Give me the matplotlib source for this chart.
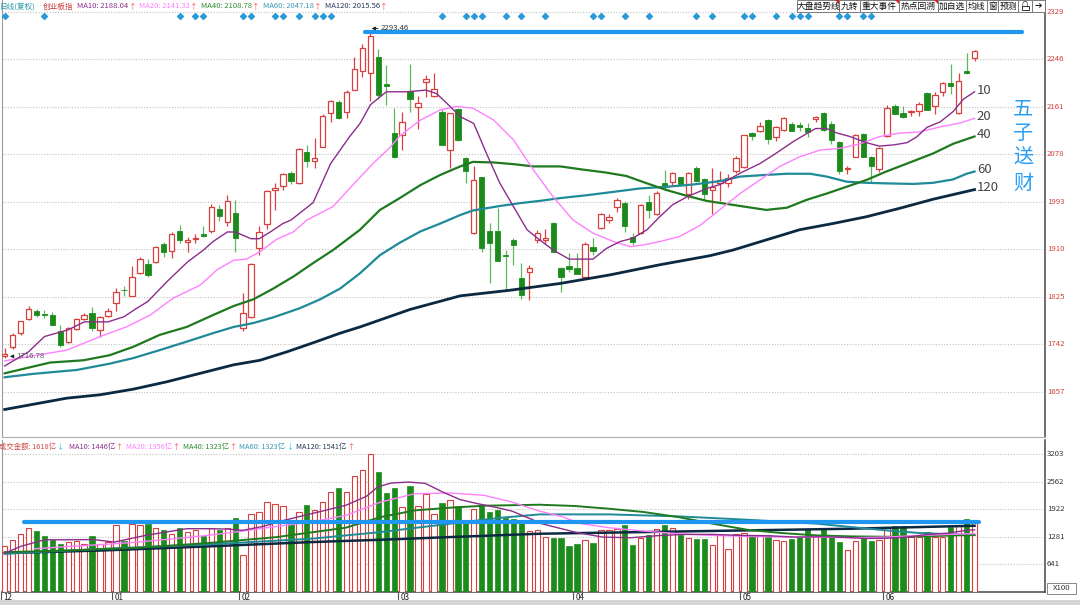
import matplotlib.pyplot as plt
from matplotlib.patches import Rectangle, Polygon

plt.rcParams['font.family'] = ['Noto Sans CJK SC', 'DejaVu Sans']

# ---- daily candles, 创业板指 (Dec 2019 - Jun 2020) ----
opens = [1721, 1737, 1762, 1786, 1800, 1795, 1793, 1765, 1745, 1769, 1786, 1796, 1767, 1792,
         1814, 1838, 1827, 1868, 1883, 1887, 1919, 1907, 1942, 1922, 1928, 1936, 1942, 1980, 1958, 1974,
         1771, 1790, 1911, 1955, 2014, 2021, 2045, 2026, 2082, 2066, 2091, 2151, 2170, 2153, 2192, 2224,
         2221, 2250, 2202, 2115,
         2112, 2190, 2161, 2206, 2181, 2153, 2085, 2157, 2070, 1939, 2037, 1942, 1942, 1900, 1925, 1858,
         1870, 1926, 1925, 1956, 1876, 1879,
         1876, 1861, 1914, 1947, 1962, 1984, 1992, 1932, 1939, 1993, 1972, 2026, 2029, 2037, 2008, 2054,
         2033, 2014, 2026, 2027, 2047,
         2055, 2115, 2118, 2138, 2108, 2120, 2131, 2129, 2124, 2139, 2150, 2131, 2100, 2052, 2073, 2113,
         2072, 2051,
         2109, 2163, 2151, 2152, 2154, 2185, 2162, 2188, 2203, 2151, 2224, 2247]
highs = [1735, 1761, 1783, 1809, 1804, 1802, 1799, 1775, 1772, 1788, 1796, 1807, 1792, 1805,
         1841, 1845, 1879, 1895, 1893, 1916, 1922, 1940, 1952, 1932, 1936, 1951, 1990, 1988, 2005, 1997,
         1832, 1885, 1950, 2015, 2026, 2045, 2048, 2088, 2093, 2106, 2148, 2174, 2173, 2191, 2250, 2273,
         2293.46, 2263, 2235, 2159,
         2153, 2238, 2181, 2218, 2221, 2158, 2151, 2160, 2073, 2056, 2038, 1956, 1982, 1908, 1929, 1886,
         1882, 1943, 1945, 1958, 1878, 1902,
         1902, 1922, 1929, 1974, 1971, 2000, 1994, 1939, 1990, 2006, 2012, 2049, 2046, 2038, 2046, 2056,
         2035, 2053, 2047, 2042, 2075,
         2112, 2117, 2134, 2139, 2127, 2143, 2135, 2135, 2133, 2145, 2153, 2136, 2101, 2057, 2113, 2115,
         2074, 2090,
         2165, 2166, 2163, 2155, 2170, 2188, 2188, 2206, 2237, 2222, 2257, 2262]
lows = [1716.78, 1733, 1757, 1784, 1790, 1787, 1775, 1737, 1744, 1766, 1785, 1765, 1755, 1790,
        1800, 1827, 1826, 1866, 1860, 1885, 1895, 1894, 1921, 1905, 1920, 1931, 1938, 1960, 1950, 1905,
        1765, 1788, 1900, 1945, 1979, 2015, 2025, 2024, 2055, 2053, 2090, 2135, 2140, 2141, 2191, 2215,
        2172, 2176, 2165, 2070,
        2085, 2153, 2123, 2178, 2178, 2093, 2053, 2101, 2027, 1937, 1905, 1849, 1889, 1840, 1882, 1821,
        1820, 1920, 1918, 1904, 1834, 1870,
        1865, 1858, 1899, 1946, 1956, 1976, 1940, 1917, 1937, 1965, 1970, 2014, 2021, 2021, 1999, 2029,
        1997, 1972, 1995, 2020, 2045,
        2053, 2102, 2116, 2096, 2101, 2119, 2118, 2119, 2108, 2134, 2118, 2096, 2042, 2043, 2072, 2072,
        2026, 2046,
        2108, 2148, 2141, 2146, 2145, 2155, 2148, 2181, 2184, 2149, 2220, 2242]
closes = [1724, 1758, 1782, 1803, 1794, 1793, 1775, 1740, 1771, 1786, 1794, 1770, 1790, 1800,
          1834, 1837, 1861, 1893, 1864, 1914, 1905, 1936, 1925, 1925, 1930, 1933, 1984, 1968, 1995, 1930,
          1797, 1883, 1940, 2012, 2017, 2042, 2031, 2086, 2066, 2070, 2146, 2172, 2141, 2188, 2228, 2265,
          2287, 2182, 2198, 2073,
          2135, 2175, 2169, 2210, 2193, 2094, 2150, 2103, 2047, 2032, 1912, 1920, 1889, 1897, 1917, 1829,
          1877, 1939, 1929, 1905, 1861, 1874,
          1866, 1919, 1907, 1972, 1966, 1997, 1951, 1923, 1988, 1979, 2009, 2020, 2044, 2025, 2044, 2031,
          2007, 2020, 2032, 2035, 2070,
          2111, 2109, 2127, 2104, 2126, 2141, 2119, 2126, 2116, 2144, 2120, 2102, 2048, 2054, 2111, 2073,
          2057, 2088,
          2159, 2149, 2144, 2153, 2167, 2156, 2182, 2204, 2198, 2207, 2221, 2261]

# 成交金额 (x100 亿 scale on the axis)
volumes = [1060, 1200, 1355, 1495, 1417, 1293, 1215, 1106, 1160, 1183, 1122, 1308, 1122, 1161,
           1549, 1183, 1588, 1549, 1588, 1495, 1433, 1355, 1495, 1394, 1433, 1293, 1495, 1433, 1495, 1720,
           866, 1821, 1868, 2084, 2054, 1991, 1681, 1860, 2015, 1898, 2092, 2325, 2418, 2325, 2690, 2830,
           3219, 2791, 2302, 2418,
           1976, 2465, 2007, 2271, 1821, 2077, 2131, 1991, 1665, 1937, 2015, 1850, 1900, 1730, 1700, 1600,
           1420, 1450,
           1277, 1262, 1262, 1060, 1106, 1199, 1137, 1448, 1433, 1472, 1549, 1083, 1254, 1316, 1472, 1549,
           1495, 1316, 1262, 1231, 1231, 1083, 1316, 1006, 1355, 1378, 1316, 1316, 1316, 1199, 1183, 1231,
           1277, 1472, 1293, 1495, 1277, 1161, 982, 1183, 1277, 1176, 1199, 1510, 1526, 1526, 1277, 1277,
           1394, 1277, 1277, 1510, 1526, 1697, 1618]

# moving averages (day index, value)
ma10_x = [0, 3, 5, 8, 10, 13, 15, 16.6, 18, 20.4, 23, 25, 26.2, 28, 29, 31, 32, 33.4, 35, 36, 38.8, 41,
          43.4, 44.7, 46, 48, 50.6, 53, 54.3, 55.6, 57.3, 59, 60.6, 62.3, 64, 65.7, 67.3, 69, 71, 74,
          75.7, 77.4, 79, 80.8, 82.4, 84, 85.8, 88.3, 90, 92.5, 95, 97, 99.2, 101, 102, 103.4, 104.7,
          106.3, 108.4, 110, 111.8, 113.5, 114.7, 116, 117.7, 119.3, 120.6, 122]
ma10_y = [1703, 1728, 1755, 1767, 1781, 1781, 1790, 1805, 1817, 1852, 1887, 1908, 1923, 1940, 1940,
          1928, 1928, 1940, 1955, 1961, 1992, 2061, 2109, 2132, 2165, 2188, 2188, 2191, 2185, 2168, 2144,
          2132, 2079, 2026, 1985, 1944, 1926, 1908, 1892, 1892, 1911, 1923, 1929, 1944, 1967, 1988, 2002,
          2017, 2024, 2044, 2061, 2079, 2100, 2115, 2123, 2123, 2115, 2109, 2098, 2092, 2094, 2098, 2108,
          2125, 2135, 2153, 2175, 2188]
ma20_x = [0, 3.6, 7.8, 12, 15.3, 18.3, 21.2, 24.6, 26.7, 28.8, 30.4, 32.1, 34.2, 36.3, 38, 41.3, 43.9,
          46.4, 48.5, 49.7, 52.3, 54.8, 56.9, 58.9, 61.5, 64, 66.5, 69, 71.5, 74, 76.6, 78.7, 80.3, 82.4,
          84.9, 87.5, 90, 92.5, 95, 97.5, 100, 102.6, 105.1, 107.6, 110.1, 112.6, 115.1, 117.7, 120.2, 122]
ma20_y = [1712, 1721, 1731, 1755, 1772, 1793, 1823, 1846, 1873, 1890, 1892, 1905, 1927, 1940, 1961, 1985,
          2025, 2062, 2090, 2110, 2138, 2156, 2162, 2159, 2138, 2103, 2050, 2002, 1961, 1938, 1923, 1914,
          1917, 1923, 1932, 1952, 1980, 2008, 2032, 2056, 2073, 2085, 2088, 2096, 2109, 2115, 2117, 2126,
          2133, 2141]
ma40_x = [0, 5.7, 9.9, 13.2, 16.2, 19.5, 22.9, 26.2, 28.8, 31.3, 33.8, 36.3, 38.8, 41.3, 44.7, 47.2,
          49.7, 52.3, 54.8, 57.3, 58.9, 61.5, 64, 66.5, 69.9, 72.4, 75.7, 78.2, 80.8, 83.3, 85.8, 88.3,
          92.5, 95.8, 98.4, 100.9, 103.4, 105.9, 108.4, 110.9, 113.5, 116.8, 119.3, 122]
ma40_y = [1690, 1709, 1713, 1722, 1737, 1758, 1772, 1793, 1809, 1821, 1840, 1861, 1885, 1908, 1944, 1979,
          2000, 2023, 2041, 2056, 2064, 2063, 2060, 2056, 2056, 2051, 2045, 2039, 2026, 2014, 2004, 1995,
          1986, 1979, 1983, 1997, 2008, 2020, 2032, 2047, 2061, 2079, 2096, 2109]
ma60_x = [0, 3.6, 9.1, 13.2, 16.2, 19.5, 22.9, 26.2, 28.8, 31.3, 33.8, 37.1, 39.7, 42.2, 44.7, 47.2,
          49.7, 52.3, 54.8, 57.3, 58.9, 62.3, 64.8, 67.3, 69.9, 73.2, 76.6, 79.9, 83.3, 86.6, 90, 92.5,
          95.8, 98.4, 101.3, 103.4, 105.9, 108.4, 110.9, 114.3, 116.8, 119.3, 121, 122]
ma60_y = [1683, 1689, 1696, 1707, 1717, 1731, 1746, 1761, 1772, 1779, 1789, 1805, 1821, 1840, 1867, 1899,
          1921, 1941, 1955, 1970, 1978, 1986, 1991, 1995, 2000, 2005, 2011, 2017, 2020, 2024, 2030, 2038,
          2041, 2043, 2043, 2038, 2029, 2027, 2026, 2025, 2027, 2033, 2043, 2047]
ma120_x = [0, 7.8, 12, 16.2, 20.4, 24.6, 28.8, 32.1, 35.5, 38.8, 42.2, 44.7, 51, 57.3, 63.6, 69.9, 76.1,
           82.4, 88.7, 91.6, 95.8, 100, 104.2, 108.4, 112.6, 116.8, 122]
ma120_y = [1626, 1646, 1652, 1662, 1675, 1690, 1705, 1713, 1728, 1744, 1761, 1772, 1803, 1827, 1837, 1849,
           1864, 1882, 1898, 1908, 1926, 1944, 1955, 1967, 1982, 1998, 2015]

vma10_x = [0, 2, 5, 8.1, 11.2, 13.8, 17.7, 20.3, 22.9, 25.5, 28.1, 29.9, 32.5, 35.1, 37.7, 40.3, 42.9,
           45.5, 46.9, 48.6, 50.8, 52.9, 55.1, 57.3, 59.5, 61.6, 63.8, 66.4, 67.3, 71.7, 75.2, 78.7, 82.6,
           85.6, 89.1, 92.6, 96.1, 99.5, 103, 105.6, 108.3, 110.9, 113.5, 116.1, 118.7, 120.9, 122]
vma10_y = [904, 1060, 1215, 1215, 1219, 1161, 1316, 1394, 1472, 1472, 1464, 1433, 1525, 1665, 1782, 1898,
           2015, 2224, 2441, 2534, 2557, 2526, 2325, 2147, 2054, 1976, 1882, 1681, 1600, 1394, 1277, 1262,
           1316, 1339, 1339, 1316, 1308, 1277, 1285, 1270, 1246, 1250, 1277, 1339, 1370, 1433, 1446]
vma20_x = [3.8, 8.1, 12.5, 16.8, 21.2, 25.5, 29.9, 34.2, 38.6, 42.9, 47.3, 51.6, 56, 60.3, 63.8, 67.3,
           70, 72.6, 76, 80.4, 84.7, 89.1, 93.4, 97.8, 102.2, 106.5, 110.9, 115.2, 119.6, 122]
vma20_y = [1006, 1060, 1106, 1161, 1239, 1316, 1417, 1525, 1627, 1782, 2092, 2286, 2302, 2248, 2092, 1880,
           1759, 1588, 1495, 1417, 1355, 1316, 1293, 1277, 1277, 1262, 1277, 1316, 1345, 1356]
vma40_x = [0, 8.1, 16.8, 25.5, 34.2, 42.9, 47.3, 51.6, 56, 60.3, 67.3, 71.7, 76, 80.4, 84.7, 89.1, 93.4,
           97.8, 102.2, 106.5, 110.9, 115.2, 119.6, 122]
vma40_y = [927, 967, 1029, 1137, 1277, 1495, 1743, 1898, 1960, 2007, 2030, 2000, 1937, 1860, 1743, 1588,
           1448, 1370, 1316, 1293, 1285, 1293, 1316, 1323]
vma60_x = [0, 12.5, 25.5, 38.6, 47.3, 56, 62.5, 67.3, 76, 84.7, 93.4, 102.2, 106.5, 110.9, 115.2, 122]
vma60_y = [889, 1006, 1106, 1239, 1394, 1588, 1728, 1805, 1805, 1759, 1681, 1588, 1511, 1433, 1370, 1323]
vma120_x = [0, 12.5, 25.5, 38.6, 47.3, 56, 67.3, 80.4, 93.4, 106.5, 115.2, 122]
vma120_y = [904, 967, 1060, 1161, 1215, 1277, 1355, 1394, 1433, 1472, 1511, 1541]

price_ticks = [2329, 2246, 2161, 2078, 1993, 1910, 1825, 1742, 1657]
vol_ticks = [3203, 2562, 1922, 1281, 641]
month_labels = ['12', '01', '02', '03', '04', '05', '06']
month_start = [0, 14, 30, 50, 72, 93, 111]
signal_days = [0, 5, 22, 24, 25, 30, 31, 34, 35, 37, 39, 40, 41, 55, 58, 59, 60, 63, 65, 68, 74, 75,
               78, 81, 87, 89, 93, 94, 97, 99, 100, 101, 105, 106, 108, 109]
high_price = 2293.46
low_price = 1716.78
last_volume = 1618

RED = '#d8403f'
GREEN = '#1b8c1b'
GREEN_WICK = '#5cb85c'
C10, C20, C40, C60, C120 = '#8b2d8b', '#ff80ff', '#1f7a1f', '#1f8a98', '#0b2a42'
BLUE = '#1f96f0'
UP_ARROW, DN_ARROW = '#ff5050', '#30c0e8'

W, H = 1080, 605
fig = plt.figure(figsize=(W / 100, H / 100), dpi=100)
fig.patch.set_facecolor('white')


def fx(px):
    return px / W


def fy(py):
    return 1 - py / H


ax = fig.add_axes([fx(2), fy(437), 1043 / W, 437 / H])
axv = fig.add_axes([fx(2), fy(592), 1043 / W, 152 / H])
xlo, xhi = -0.34, 130.86
for a in (ax, axv):
    a.set_xlim(xlo, xhi)
    a.set_xticks([])
    a.set_yticks([])
    a.spines['top'].set_visible(False)
    a.spines['left'].set_color('#9a9a9a')
    a.spines['right'].set_color('#555555')
    a.spines['right'].set_linewidth(1.2)
ax.set_ylim(1577.3, 2350.4)
ax.spines['bottom'].set_color('#b0b0b0')
axv.set_ylim(0, 3535)
axv.spines['bottom'].set_color('#555555')
axv.spines['bottom'].set_linewidth(1.2)

# grid + right labels
for p in price_ticks:
    ax.axhline(p, color='#c4c4c4', lw=0.8, ls=(0, (1, 1.5)), zorder=1)
    ax.text(1.002, p, str(p), transform=ax.get_yaxis_transform(), fontsize=5.6,
            color='#d04040', va='center', ha='left', clip_on=False)
for v in vol_ticks:
    axv.axhline(v, color='#c4c4c4', lw=0.8, ls=(0, (1, 1.5)), zorder=1)
    axv.text(1.002, v, str(v), transform=axv.get_yaxis_transform(), fontsize=5.6,
             color='#333333', va='center', ha='left', clip_on=False)

# candles + volume bars
n = len(closes)
for i in range(n):
    o, h, l, c = opens[i], highs[i], lows[i], closes[i]
    up = c >= o
    top, bot = max(o, c), min(o, c)
    body = max(top - bot, 1.2)
    wc = RED if up else GREEN_WICK
    ax.vlines(i, top, h, color=wc, lw=0.9, zorder=3)
    ax.vlines(i, l, bot, color=wc, lw=0.9, zorder=3)
    if up:
        ax.bar(i, body, bottom=bot, width=0.68, facecolor='white', edgecolor=RED, lw=0.9, zorder=4)
        axv.bar(i, volumes[i], width=0.68, facecolor='white', edgecolor=RED, lw=0.8, zorder=3)
    else:
        ax.bar(i, body, bottom=bot, width=0.68, facecolor=GREEN, edgecolor=GREEN, lw=0.6, zorder=4)
        axv.bar(i, volumes[i], width=0.68, facecolor=GREEN, edgecolor=GREEN, lw=0.5, zorder=3)

# moving averages
ax.plot(ma120_x, ma120_y, color=C120, lw=2.0, zorder=5)
ax.plot(ma60_x, ma60_y, color=C60, lw=1.6, zorder=5)
ax.plot(ma40_x, ma40_y, color=C40, lw=1.6, zorder=5)
ax.plot(ma20_x, ma20_y, color=C20, lw=1.0, zorder=5)
ax.plot(ma10_x, ma10_y, color=C10, lw=1.0, zorder=5)

axv.plot(vma120_x, vma120_y, color=C120, lw=1.8, zorder=5)
axv.plot(vma60_x, vma60_y, color=C60, lw=1.4, zorder=5)
axv.plot(vma40_x, vma40_y, color=C40, lw=1.4, zorder=5)
axv.plot(vma20_x, vma20_y, color=C20, lw=1.0, zorder=5)
axv.plot(vma10_x, vma10_y, color=C10, lw=1.0, zorder=5)

# horizontal blue levels
ax.plot([45.3, 128], [high_price, high_price], color=BLUE, lw=3, solid_capstyle='round', zorder=6)
axv.plot([2.4, 122.6], [last_volume, last_volume], color=BLUE, lw=3, solid_capstyle='round', zorder=6)

ax.annotate('', xy=(45.8, 2300), xytext=(47.3, 2300),
            arrowprops=dict(arrowstyle='-|>', color='#222222', lw=0.7, mutation_scale=5), zorder=7)
ax.text(47.3, 2300, '%.2f' % high_price, fontsize=5.6, color='#333333', va='center', ha='left', zorder=7)
ax.annotate('', xy=(0.3, 1720), xytext=(1.4, 1720),
            arrowprops=dict(arrowstyle='-|>', color='#222222', lw=0.7, mutation_scale=5), zorder=7)
ax.text(1.4, 1720, '%.2f' % low_price, fontsize=5.6, color='#555555', va='center', ha='left', zorder=7)

# signal diamonds
ax.scatter(signal_days, [2322] * len(signal_days), marker='D', s=9, color='#2a9ad8', zorder=6,
           clip_on=False)

# MA end labels
for val, lab in zip([ma10_y[-1], ma20_y[-1], ma40_y[-1], ma60_y[-1], ma120_y[-1]],
                    ['10', '20', '40', '60', '120']):
    ax.text(122.3, val + 3, lab, fontsize=9.5, color='#444444', va='center', ha='left', zorder=7)
ax.text(128.1, 2092, '五\n子\n送\n财', fontsize=14.5, color='#2a9df4', ha='center', va='center',
        linespacing=1.25, zorder=7)

# month ticks
for ms, lab in zip(month_start, month_labels):
    t = ms - 0.5
    axv.plot([t, t], [0, -170], color='#555555', lw=0.8, clip_on=False)
    axv.text(t + 0.35, -118, lab, fontsize=5.8, color='#222222', va='center', ha='left')

renderer = fig.canvas.get_renderer()


def legend_row(row, py, size):
    # each item: text, left pixel, colour, arrow char, arrow colour; items never overlap
    end = -100
    for txt, px, col, arr, acol in row:
        left = max(px, end + 3)
        t = fig.text(fx(left), fy(py), txt, fontsize=size, color=col, va='center', ha='left')
        bb = t.get_window_extent(renderer=renderer)
        end = bb.x1
        if arr:
            a = fig.text((bb.x1 + 0.3) / W, fy(py), arr, fontsize=size, color=acol, va='center', ha='left')
            end = a.get_window_extent(renderer=renderer).x1


legend_row([('日线(复权)', 0, '#2a9aa8', '', UP_ARROW),
            ('创业板指', 43, '#c83c3c', '', UP_ARROW),
            ('MA10: 2188.04', 77, C10, '↑', UP_ARROW),
            ('MA20: 2141.32', 138, C20, '↑', UP_ARROW),
            ('MA40: 2108.78', 198, '#2e8b2e', '↑', UP_ARROW),
            ('MA60: 2047.18', 258, '#3a9ab0', '↑', UP_ARROW),
            ('MA120: 2015.56', 318, '#2a3a5a', '↑', UP_ARROW)], 6.5, 5.5)
legend_row([('成交金额: 1618亿', -1, '#d04848', '↓', DN_ARROW),
            ('MA10: 1446亿', 69, C10, '↑', UP_ARROW),
            ('MA20: 1356亿', 126, C20, '↑', UP_ARROW),
            ('MA40: 1323亿', 178, '#2e8b2e', '↑', UP_ARROW),
            ('MA60: 1323亿', 232, '#3a9ab0', '↓', DN_ARROW),
            ('MA120: 1541亿', 287, '#2a3a5a', '↑', UP_ARROW)], 446.5, 5.3)

# toolbar buttons top right
buttons = [(797, 839, '大盘趋势线'), (839, 860, '九转'), (860, 899, '重大事件'), (899, 938, '热点回溯'),
           (938, 966, '加自选'), (966, 987, '均线'), (987, 998, '窗'), (998, 1018, '预测'),
           (1018, 1032, ''), (1032, 1045, '')]
for x0, x1, lab in buttons:
    fig.patches.append(Rectangle((fx(x0), fy(11.5)), (x1 - x0) / W, 11.5 / H, transform=fig.transFigure,
                                 facecolor='white', edgecolor='#7a7a7a', lw=0.7, zorder=8))
    if lab:
        fig.text(fx((x0 + x1) / 2), fy(6), lab, fontsize=6.3, color='#111111', ha='center', va='center',
                 zorder=9)
for xc in [839, 899, 938]:
    fig.patches.append(Polygon([(fx(xc - 4), fy(0)), (fx(xc), fy(0)), (fx(xc), fy(4))], closed=True,
                               transform=fig.transFigure, facecolor='#e02020', edgecolor='none', zorder=9))
# lock + exit glyphs
fig.patches.append(Rectangle((fx(1021.5), fy(10)), 7 / W, 4.5 / H, transform=fig.transFigure,
                             facecolor='white', edgecolor='#333333', lw=0.7, zorder=9))
fig.text(fx(1025), fy(4.2), '∩', fontsize=6, color='#333333', ha='center', va='center', zorder=9)
fig.text(fx(1038.5), fy(6), '➔', fontsize=6.5, color='#222222', ha='center', va='center', zorder=9,
         family='DejaVu Sans')

# X100 box
fig.patches.append(Rectangle((fx(1047), fy(594)), 29 / W, 11 / H, transform=fig.transFigure,
                             facecolor='white', edgecolor='#888888', lw=0.7, zorder=8))
fig.text(fx(1061.5), fy(588.5), 'X100', fontsize=5.6, color='#333333', ha='center', va='center', zorder=9)

# scrollbar strip
fig.patches.append(Rectangle((0, 0), 1, 5 / H, transform=fig.transFigure,
                             facecolor='#d6d6d6', edgecolor='none', zorder=1))

fig.savefig('out.png', dpi=100)
